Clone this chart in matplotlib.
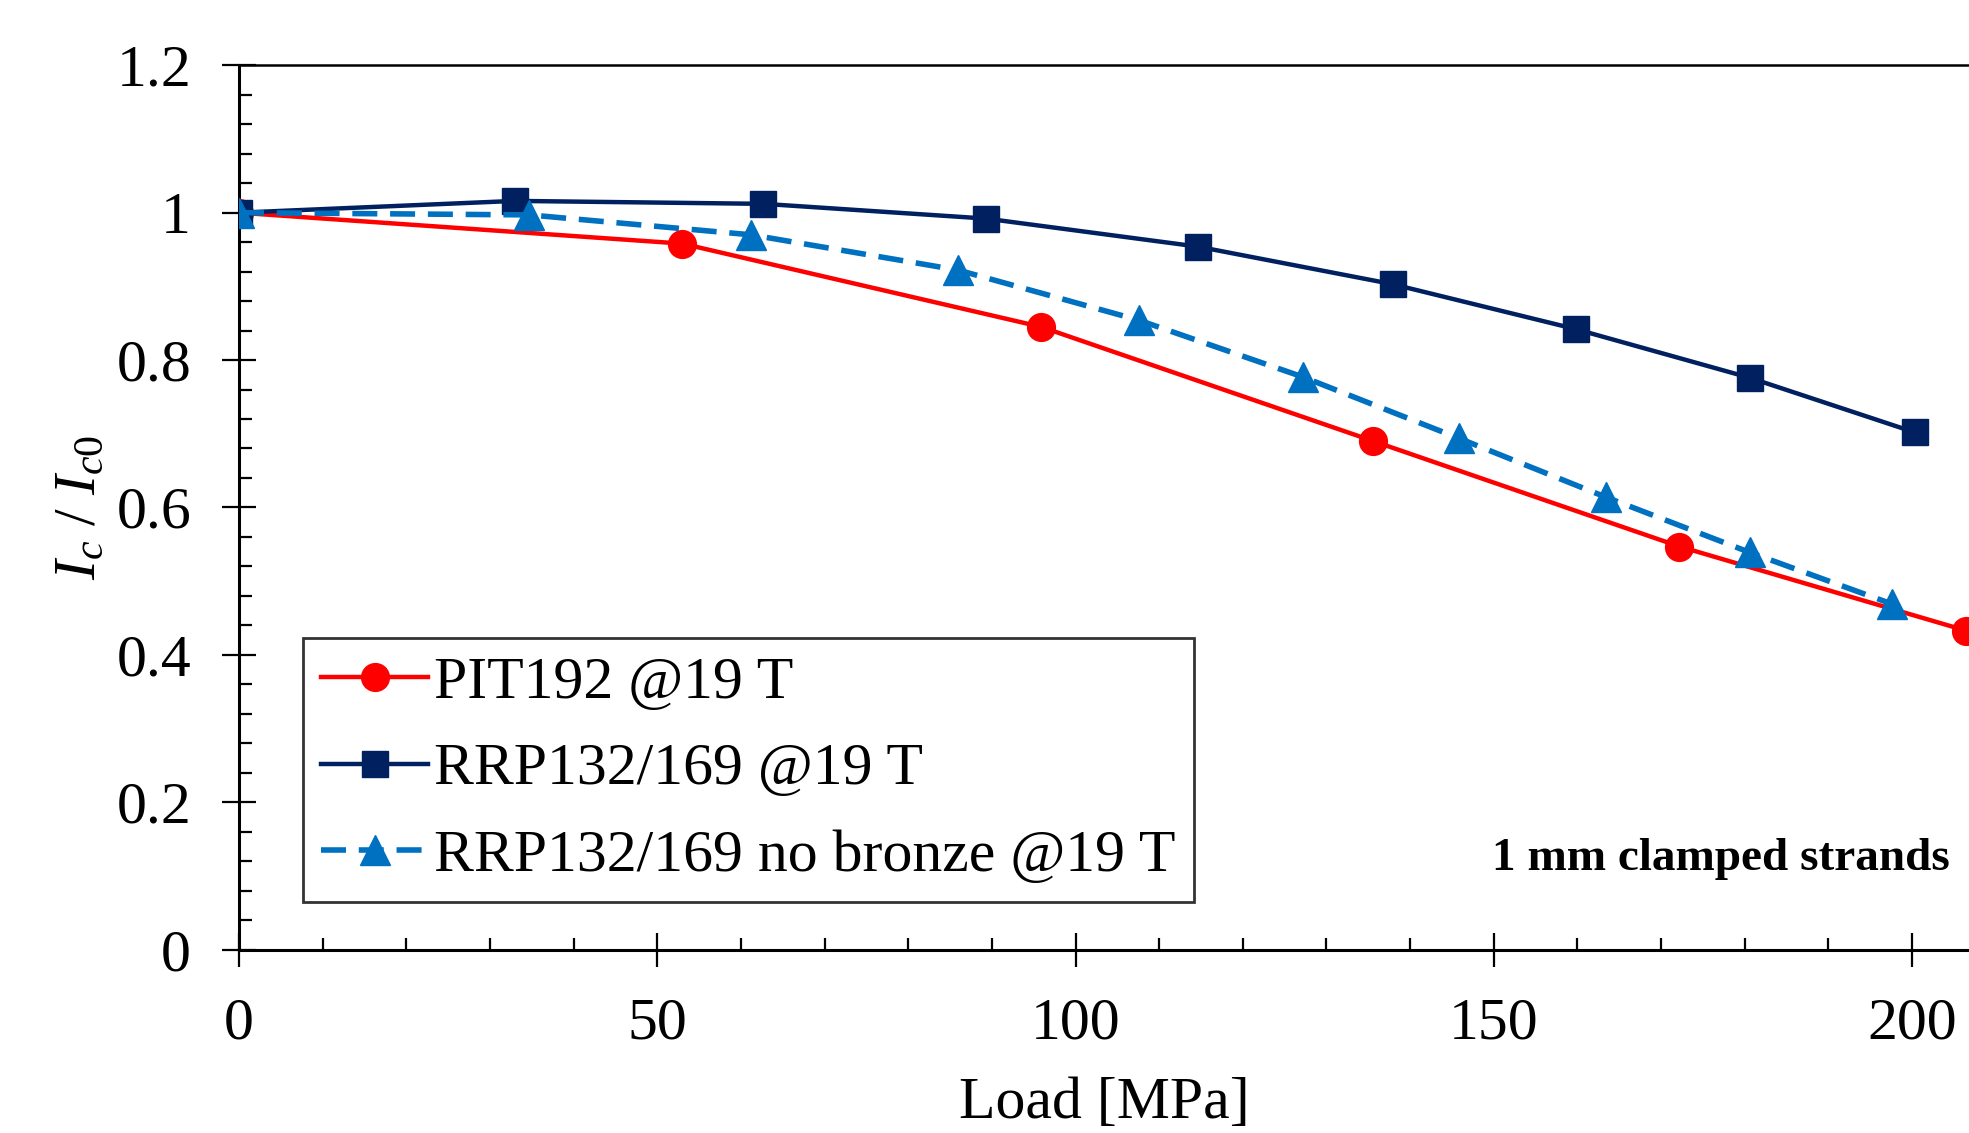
import matplotlib
matplotlib.use("Agg")
import matplotlib.pyplot as plt
from matplotlib.ticker import MultipleLocator, FuncFormatter

# Data
pit_x = [0, 53.0, 95.9, 135.6, 172.2, 206.4]
pit_y = [1.0, 0.958, 0.845, 0.690, 0.547, 0.433]

rrp_x = [0, 33.0, 62.7, 89.3, 114.6, 137.9, 159.8, 180.6, 200.3]
rrp_y = [1.0, 1.016, 1.012, 0.992, 0.954, 0.903, 0.842, 0.776, 0.702]

nob_x = [0, 34.7, 61.2, 86.0, 107.6, 127.2, 145.8, 163.4, 180.6, 197.6]
nob_y = [1.0, 0.997, 0.970, 0.922, 0.854, 0.777, 0.694, 0.614, 0.539, 0.469]

labels = ["PIT192 @19 T", "RRP132/169 @19 T", "RRP132/169 no bronze @19 T"]
x_ticks = [0, 50, 100, 150, 200]
y_ticks = [0, 0.2, 0.4, 0.6, 0.8, 1.0, 1.2]

plt.rcParams['font.family'] = ['Liberation Serif', 'DejaVu Serif']
plt.rcParams['mathtext.fontset'] = 'custom'
plt.rcParams['mathtext.rm'] = 'Liberation Serif'
plt.rcParams['mathtext.it'] = 'Liberation Serif:italic'
plt.rcParams['mathtext.default'] = 'it'

fig = plt.figure(figsize=(19.69, 11.33), dpi=100)
ax = fig.add_axes([239/1969, 183.4/1133, 1 - 239/1969, (949.6-65.3)/1133])

ax.plot(pit_x, pit_y, color='#FF0000', lw=3.2, marker='o', ms=20,
        label=labels[0], zorder=3)
ax.plot(rrp_x, rrp_y, color='#002060', lw=3.2, marker='s', ms=19,
        label=labels[1], zorder=4)
ax.plot(nob_x, nob_y, color='#0070C0', lw=4.0, linestyle=(0, (4.5, 2.3)),
        marker='^', ms=21, label=labels[2], zorder=5)

ax.set_xlim(0, (1969-239)/8.365)
ax.set_ylim(0, 1.2)
ax.set_xticks(x_ticks)
ax.set_yticks(y_ticks)
ax.xaxis.set_minor_locator(MultipleLocator(10))
ax.yaxis.set_minor_locator(MultipleLocator(0.04))
ax.yaxis.set_major_formatter(FuncFormatter(lambda v, p: f"{v:g}"))

ax.spines['right'].set_visible(False)
ax.spines['left'].set_linewidth(2.2)
ax.spines['bottom'].set_linewidth(2.2)
ax.spines['top'].set_linewidth(1.8)

ax.tick_params(axis='both', which='major', direction='inout', length=25,
               width=1.6, labelsize=43, pad=22)
ax.tick_params(axis='both', which='minor', direction='in', length=9, width=1.6)
ax.tick_params(axis='x', which='both', top=False)

ax.set_xlabel("Load [MPa]", fontsize=43, labelpad=18)
ax.set_ylabel(r"$I_c\ /\ I_{c0}$", fontsize=43, labelpad=6)

leg = ax.legend(loc='lower left', bbox_to_anchor=(0.037, 0.054),
                borderaxespad=0, fontsize=43, frameon=True, fancybox=False,
                edgecolor='black', handlelength=1.8, labelspacing=0.53,
                handletextpad=0.1, borderpad=0.3)
leg.get_frame().set_linewidth(2)

ax.text(0.989, 0.1025, "1 mm clamped strands", transform=ax.transAxes,
        ha='right', va='center', fontsize=34, fontweight='bold')

fig.savefig("out.png", dpi=100)
